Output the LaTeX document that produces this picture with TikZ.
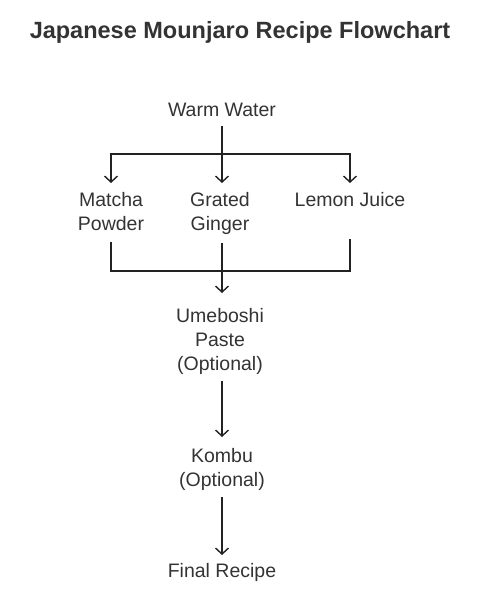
\documentclass[tikz,border=0pt]{standalone}
\usepackage{fontspec}
\setmainfont{Liberation Sans}
\usetikzlibrary{arrows.meta}
\definecolor{inkgray}{HTML}{333333}
\definecolor{linegray}{HTML}{222222}
\begin{document}
\begin{tikzpicture}[x=1pt, y=-1pt,
					item/.style = {font=\fontsize{19.5}{24}\selectfont, align=center, text=inkgray, inner sep=0pt, outer sep=2pt},
					flow/.style = {-{Straight Barb[length=6pt, width=13pt]}, line width=1.4pt, draw=linegray},
					link/.style = {line width=1.4pt, draw=linegray, line cap=rect}
				]
				\useasboundingbox (0,0) rectangle (480,597);

				% title
				\node[font=\bfseries\fontsize{23.5}{28}\selectfont, text=inkgray] (title) at (240,32) {Japanese Mounjaro Recipe Flowchart};

				% nodes
				\node[item] (warm) at (222,112) {\strut Warm Water};
				\node[item] (matcha) at (111,214) {\strut Matcha\\\strut Powder};
				\node[item] (ginger) at (220,214) {\strut Grated\\\strut Ginger};
				\node[item] (lemon) at (350,202) {\strut Lemon Juice};
				\node[item] (ume) at (220,342) {\strut Umeboshi\\\strut Paste\\\strut (Optional)};
				\node[item] (kombu) at (222,470) {\strut Kombu\\\strut (Optional)};
				\node[item] (final) at (222,573) {\strut Final Recipe};

				% split
				\coordinate (split) at (222,154);
				\draw[link] (matcha.north |- split) -- (lemon.north |- split);
				\draw[flow, shorten >=5pt] (warm.south) -- (warm.south |- matcha.north);
				\draw[flow, shorten >=5pt] (matcha.north |- split) -- (matcha.north);
				\draw[flow, shorten >=5pt] (lemon.north |- split) -- (lemon.north |- matcha.north);

				% join
				\coordinate (join) at (222,271);
				\draw[link, shorten <=3pt] (matcha.south) |- (join) -| (lemon.south |- matcha.south);
				\draw[flow, shorten <=3pt, shorten >=11pt] (join |- matcha.south) -- (join |- ume.north);

				\draw[flow, shorten <=1pt, shorten >=7pt] (ume.south -| warm.south) -- (kombu.north -| warm.south);
				\draw[flow, shorten <=1pt, shorten >=4pt] (kombu.south) -- (final.north);
			\end{tikzpicture}
\end{document}
